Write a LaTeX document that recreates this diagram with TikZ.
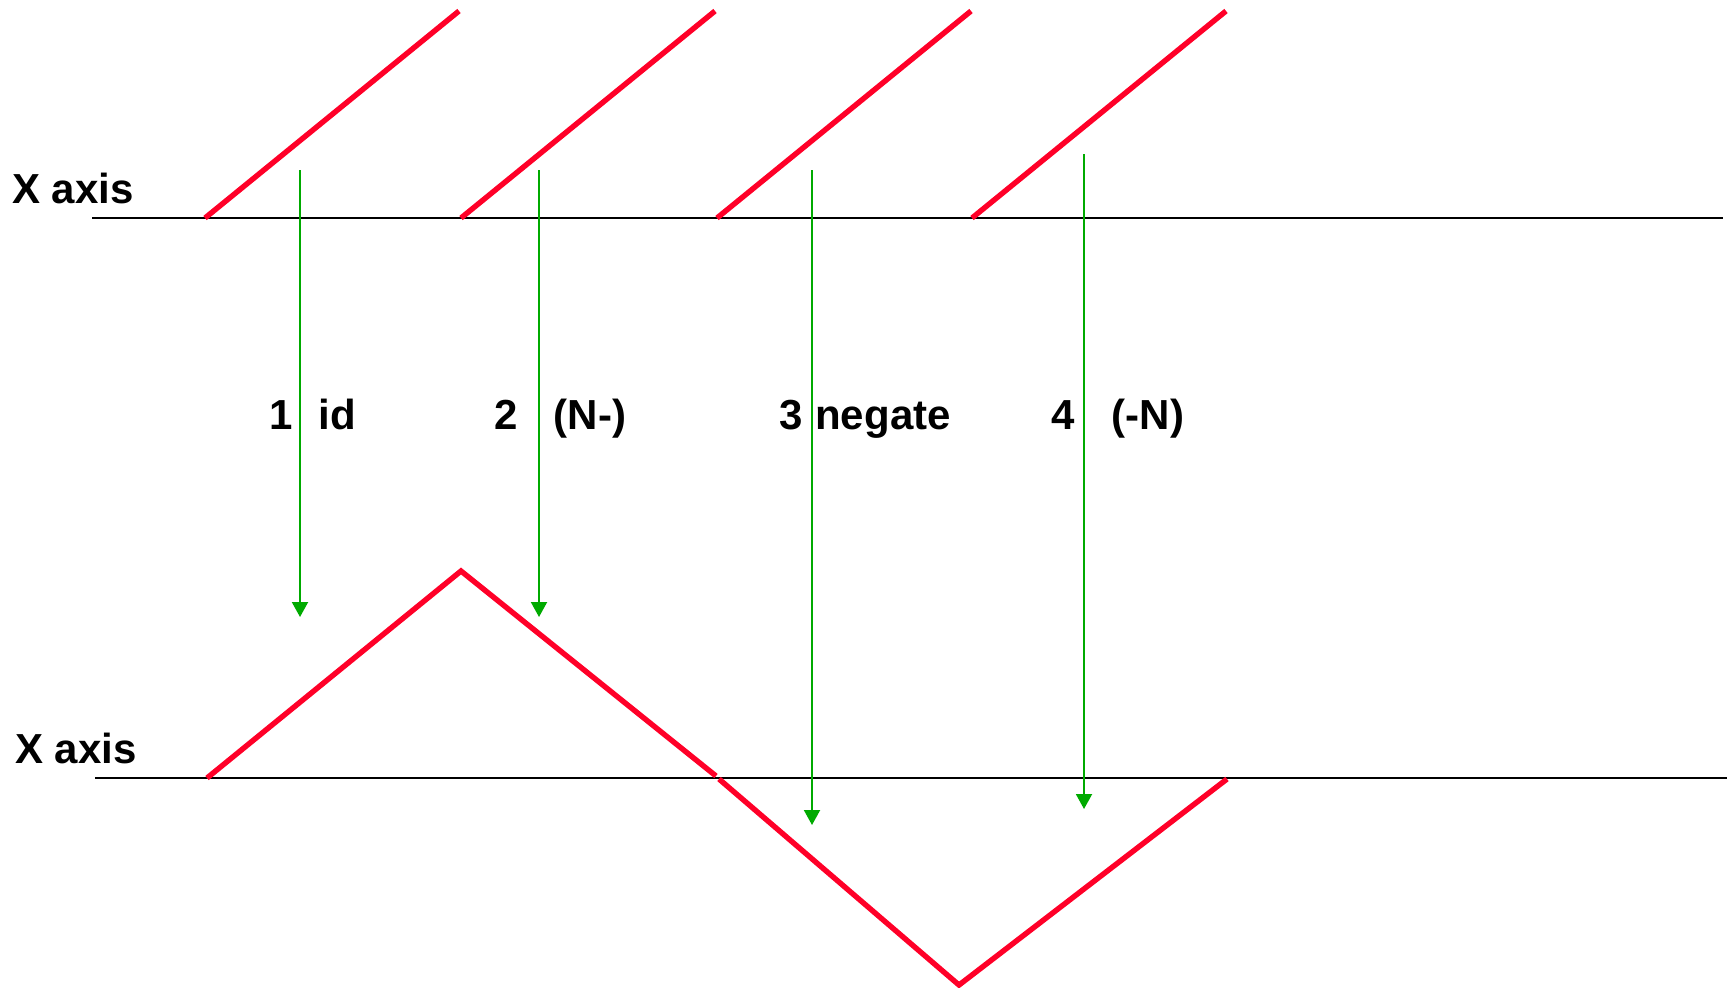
\documentclass[tikz,border=0pt]{standalone}
\usepackage{fontspec}
\setmainfont{Liberation Sans}
\usetikzlibrary{arrows.meta}
\definecolor{foldred}{HTML}{FF0028}
\definecolor{mapgreen}{HTML}{00AA00}

\begin{document}
\begin{tikzpicture}[x=0.5pt, y=-0.5pt,
  axislabel/.style={anchor=base, inner sep=0pt, font=\fontsize{21}{24}\selectfont\bfseries},
  steplabel/.style={anchor=base, inner sep=0pt, font=\fontsize{21}{24}\selectfont\bfseries},
  foldline/.style={foldred, line width=2.7pt},
  maparrow/.style={mapgreen, line width=1pt, -{Triangle[width=8pt, length=7.5pt]}}]
  \useasboundingbox (0,0) rectangle (1732,987);
  % axes
  \draw[line width=1.1pt] (92,218) -- (1723,218);
  \draw[line width=1.1pt] (95,778) -- (1727,778);
  \node[axislabel] (xtop) at (73,203) {X axis};
  \node[axislabel] (xbot) at (76,763) {X axis};
  % input pieces
  \foreach \x in {205,461,717,972}{%
    \draw[foldline] (\x,218) -- (\x+254,11);}
  % folded output
  \draw[foldline] (207,778) -- (461,571) -- (716,776);
  \draw[foldline] (719,779) -- (959,985) -- (1227,779);
  % maps
  \foreach \i/\x/\top/\tip in {1/300/170/617, 2/539/170/617, 3/812/170/825, 4/1084/154/809}{%
    \coordinate (src\i) at (\x,\top);
    \coordinate (dst\i) at (\x,\tip);
    \draw[maparrow] (src\i) -- (dst\i);}
  \foreach \nm/\x/\txt in {n1/281/1, w1/337/id, n2/506/2, w2/590/{(N-)},
                           n3/791/3, w3/883/negate, n4/1063/4, w4/1148/{(-N)}}{%
    \node[steplabel] (\nm) at (\x,429) {\txt};}
\end{tikzpicture}
\end{document}
